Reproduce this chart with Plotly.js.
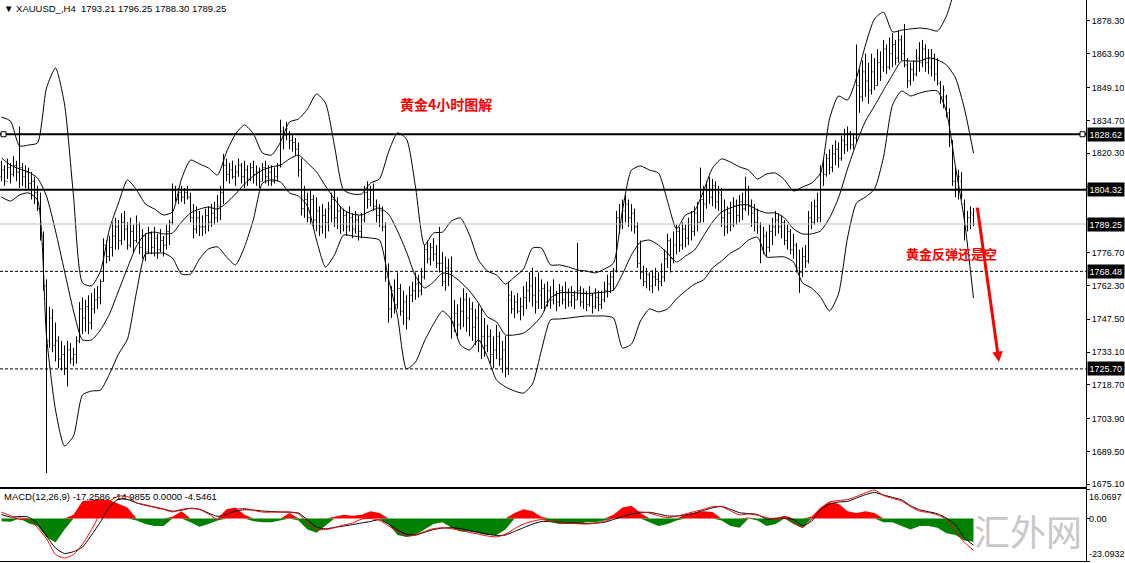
<!DOCTYPE html>
<html><head><meta charset="utf-8">
<script src="https://cdn.plot.ly/plotly-3.0.1.min.js"></script>
<style>html,body{margin:0;padding:0;background:#fff;overflow:hidden}#chart{width:1125px;height:563px}</style>
</head><body><div id="chart"></div>
<script>
// ---------- DATA ----------
const symbolLabel = 'XAUUSD_,H4';
const lastQuote = [1793.21, 1796.25, 1788.30, 1789.25];
const macdLabel = 'MACD(12,26,9) -17.2586 -14.9855 0.0000 -4.5461';

const barHigh = [
1817,1815,1818,1816,1819,1817,1832,1816,1815,1814,
1812,1810,1806,1803,1786,1765,1753,1752,1746,1740,
1738,1736,1738,1737,1735,1740,1755,1757,1756,1758,
1759,1761,1762,1765,1783,1782,1784,1790,1792,1791,
1794,1795,1790,1792,1789,1793,1790,1787,1785,1788,
1786,1788,1785,1787,1784,1789,1791,1807,1806,1805,
1806,1805,1806,1803,1798,1797,1795,1793,1796,1797,
1798,1799,1802,1806,1820,1818,1816,1817,1815,1818,
1816,1817,1815,1816,1817,1815,1814,1816,1817,1815,
1815,1814,1816,1835,1832,1834,1830,1829,1827,1825,
1818,1806,1803,1804,1802,1801,1797,1798,1796,1799,
1803,1804,1801,1797,1796,1795,1797,1794,1795,1793,
1794,1806,1808,1806,1807,1800,1798,1797,1790,1772,
1762,1765,1768,1763,1760,1758,1762,1764,1768,1767,
1770,1780,1782,1781,1783,1780,1788,1777,1775,1774,
1775,1756,1754,1757,1761,1759,1757,1755,1752,1754,
1752,1748,1745,1743,1740,1745,1742,1738,1740,1764,
1760,1758,1759,1757,1762,1764,1768,1770,1766,1768,
1765,1763,1764,1762,1765,1760,1763,1762,1764,1761,
1762,1760,1781,1762,1761,1760,1762,1759,1761,1760,
1760,1764,1767,1768,1770,1795,1798,1800,1802,1800,
1798,1796,1790,1782,1771,1770,1768,1769,1770,1768,
1772,1778,1785,1783,1786,1789,1788,1790,1789,1792,
1795,1797,1799,1814,1806,1808,1810,1809,1808,1806,
1805,1800,1797,1799,1801,1800,1802,1803,1810,1806,
1800,1798,1796,1790,1788,1786,1789,1792,1795,1794,
1793,1791,1789,1787,1785,1781,1778,1779,1780,1795,
1799,1800,1803,1815,1818,1820,1822,1824,1826,1825,
1828,1831,1832,1830,1829,1868,1857,1861,1864,1860,
1864,1862,1866,1865,1870,1868,1871,1873,1870,1874,
1872,1877,1862,1860,1861,1866,1869,1870,1868,1866,
1866,1864,1862,1852,1850,1846,1840,1826,1814,1813,
1812,1800,1795,1797,1796.25];
const barLow = [
1808,1806,1809,1807,1810,1808,1805,1806,1805,1804,
1800,1798,1795,1782,1760,1680,1735,1733,1729,1726,
1725,1723,1718,1728,1727,1728,1737,1741,1742,1741,
1743,1750,1752,1754,1764,1772,1773,1775,1778,1778,
1780,1782,1778,1779,1777,1781,1776,1774,1773,1776,
1776,1775,1774,1777,1775,1778,1780,1789,1799,1798,
1799,1798,1800,1790,1783,1785,1784,1784,1785,1786,
1788,1789,1790,1791,1798,1808,1807,1809,1806,1810,
1807,1805,1806,1808,1807,1806,1805,1808,1807,1806,
1806,1807,1808,1814,1822,1826,1822,1821,1819,1810,
1793,1792,1790,1789,1787,1786,1784,1785,1783,1786,
1790,1788,1787,1785,1786,1784,1786,1783,1785,1782,
1783,1790,1796,1797,1795,1790,1788,1786,1764,1746,
1748,1750,1752,1749,1745,1743,1747,1755,1756,1757,
1758,1765,1772,1771,1773,1770,1768,1762,1760,1762,
1739,1742,1740,1743,1744,1742,1740,1738,1736,1733,
1730,1731,1733,1728,1726,1730,1727,1724,1722,1723,
1750,1748,1750,1747,1749,1752,1755,1753,1750,1752,
1752,1751,1753,1752,1754,1751,1753,1754,1752,1753,
1753,1752,1756,1753,1752,1751,1753,1750,1752,1751,
1752,1755,1757,1759,1760,1768,1785,1787,1790,1788,
1786,1785,1770,1765,1762,1761,1760,1759,1762,1760,
1762,1764,1770,1768,1772,1776,1777,1778,1779,1780,
1782,1784,1786,1790,1790,1796,1798,1797,1796,1795,
1788,1784,1785,1786,1788,1789,1790,1791,1795,1793,
1788,1786,1785,1772,1776,1775,1777,1780,1784,1785,
1783,1780,1778,1776,1774,1768,1759,1766,1770,1772,
1787,1789,1790,1790,1806,1810,1811,1812,1815,1814,
1817,1820,1821,1822,1822,1825,1838,1843,1845,1842,
1846,1848,1850,1852,1856,1855,1857,1858,1859,1860,
1861,1858,1849,1850,1852,1854,1856,1858,1856,1855,
1854,1852,1850,1842,1840,1836,1823,1806,1801,1800,
1800,1782,1786,1787,1788.30];
const barOpen = [
1810,1813,1808,1814,1811,1815,1812,1814,1810,1812,
1807,1808,1803,1796,1784,1762,1738,1748,1736,1738,
1730,1732,1726,1734,1730,1732,1738,1752,1748,1753,
1746,1752,1756,1757,1764,1780,1775,1779,1784,1788,
1782,1790,1787,1780,1786,1782,1789,1779,1784,1777,
1785,1779,1783,1778,1782,1780,1786,1790,1804,1800,
1803,1801,1803,1801,1792,1787,1792,1788,1788,1793,
1790,1794,1792,1797,1803,1815,1811,1813,1810,1812,
1815,1810,1813,1809,1814,1811,1812,1808,1814,1810,
1812,1808,1810,1815,1830,1828,1829,1826,1825,1822,
1813,1796,1800,1792,1800,1791,1795,1788,1793,1790,
1797,1800,1792,1795,1789,1793,1788,1792,1787,1791,
1786,1791,1803,1800,1804,1797,1793,1795,1788,1766,
1752,1760,1754,1761,1751,1755,1748,1758,1760,1763,
1760,1766,1778,1774,1779,1776,1772,1772,1764,1770,
1770,1746,1750,1745,1751,1756,1748,1752,1744,1748,
1738,1740,1736,1740,1732,1734,1740,1730,1734,1726,
1756,1752,1755,1751,1753,1757,1760,1762,1758,1755,
1758,1761,1755,1760,1756,1758,1755,1760,1756,1759,
1755,1758,1756,1760,1755,1759,1754,1758,1753,1757,
1754,1756,1760,1763,1766,1769,1792,1789,1795,1798,
1792,1794,1788,1772,1768,1764,1767,1762,1766,1765,
1764,1766,1774,1782,1774,1780,1786,1780,1787,1783,
1789,1786,1794,1790,1800,1798,1804,1801,1806,1799,
1802,1792,1788,1794,1789,1797,1793,1799,1796,1804,
1797,1794,1790,1788,1778,1784,1779,1786,1788,1791,
1788,1790,1782,1786,1778,1780,1770,1768,1775,1773,
1792,1790,1797,1792,1812,1811,1818,1814,1820,1822,
1818,1826,1824,1829,1824,1827,1850,1845,1856,1852,
1848,1856,1850,1860,1858,1866,1858,1864,1868,1862,
1870,1864,1859,1852,1857,1855,1862,1860,1866,1860,
1858,1862,1855,1851,1845,1845,1838,1825,1808,1805,
1808,1798,1788,1792,1793.21];
const barClose = [
1813,1808,1814,1811,1815,1812,1814,1810,1812,1807,
1808,1803,1796,1784,1762,1738,1748,1736,1738,1730,
1732,1726,1734,1730,1732,1738,1752,1748,1753,1746,
1752,1756,1757,1764,1780,1775,1779,1784,1788,1782,
1790,1787,1780,1786,1782,1789,1779,1784,1777,1785,
1779,1783,1778,1782,1780,1786,1790,1804,1800,1803,
1801,1803,1801,1792,1787,1792,1788,1788,1793,1790,
1794,1792,1797,1803,1815,1811,1813,1810,1812,1815,
1810,1813,1809,1814,1811,1812,1808,1814,1810,1812,
1808,1810,1815,1830,1828,1831,1826,1825,1822,1813,
1796,1800,1792,1800,1791,1795,1788,1793,1790,1796,
1800,1792,1795,1789,1793,1788,1792,1787,1791,1786,
1791,1803,1800,1804,1797,1793,1795,1788,1766,1752,
1760,1754,1761,1751,1755,1748,1758,1760,1763,1760,
1766,1778,1774,1779,1776,1772,1772,1764,1770,1766,
1746,1750,1745,1751,1756,1748,1752,1744,1748,1738,
1740,1736,1740,1732,1734,1740,1730,1734,1726,1758,
1752,1755,1751,1753,1757,1760,1762,1758,1755,1760,
1761,1755,1760,1756,1758,1755,1760,1756,1759,1755,
1758,1756,1760,1755,1759,1754,1758,1753,1757,1754,
1756,1760,1763,1766,1769,1792,1789,1795,1798,1792,
1794,1788,1772,1768,1764,1767,1762,1766,1765,1764,
1766,1774,1782,1774,1780,1786,1780,1787,1783,1789,
1786,1794,1790,1800,1798,1804,1801,1806,1799,1803,
1792,1788,1794,1789,1797,1793,1799,1796,1804,1797,
1794,1790,1792,1778,1784,1779,1786,1788,1791,1788,
1790,1782,1786,1778,1780,1770,1768,1775,1773,1792,
1790,1797,1792,1812,1811,1818,1814,1820,1822,1818,
1826,1824,1829,1824,1827,1850,1845,1856,1852,1848,
1856,1850,1860,1854,1866,1858,1864,1868,1862,1870,
1864,1859,1852,1857,1855,1862,1860,1866,1860,1862,
1862,1855,1851,1845,1848,1838,1825,1808,1805,1810,
1802,1788,1792,1794,1789.25];

// Bollinger bands, read every 3rd bar
const bandStep = 3;
const bbUpper = [
1836.2,1834.4,1823.5,1823.9,1824.8,1848.9,1857.7,1841.9,1801.5,1763.4,
1762.1,1768.6,1787.1,1798.5,1808.6,1804.2,1798.0,1795.8,1793.2,1794.5,
1809.0,1817.3,1815.6,1813.8,1810.7,1820.8,1828.7,1832.7,1828.7,1820.4,
1819.5,1825.2,1834.0,1835.3,1839.7,1846.3,1842.3,1823.5,1804.2,1802.4,
1802.4,1807.2,1809.0,1820.8,1829.2,1826.5,1805.5,1780.0,1785.3,1785.7,
1790.6,1791.9,1784.4,1773.5,1768.6,1766.9,1762.9,1766.0,1769.5,1778.7,
1778.7,1771.3,1771.3,1770.4,1769.1,1768.6,1767.8,1769.5,1772.1,1795.4,
1812.9,1814.7,1812.9,1811.6,1799.3,1787.1,1793.2,1795.0,1803.7,1813.8,
1817.8,1816.4,1814.3,1812.9,1809.0,1811.2,1811.6,1808.6,1803.7,1805.5,
1807.2,1811.6,1835.3,1845.4,1843.6,1853.3,1867.8,1879.2,1882.2,1873.5,
1874.3,1874.8,1875.2,1874.8,1873.9,1880.5,1892.0,1895.0,1893.0];
const bbMiddle = [
1818.2,1815.1,1813.4,1812.1,1809.4,1801.5,1786.2,1768.6,1751.1,1738.4,
1738.4,1742.8,1749.8,1759.9,1770.0,1779.6,1784.9,1785.7,1784.9,1785.3,
1790.1,1794.1,1795.8,1796.7,1795.8,1798.5,1802.4,1806.8,1810.3,1812.9,
1814.3,1815.1,1817.8,1819.5,1816.0,1812.1,1805.9,1800.2,1795.4,1793.6,
1793.2,1795.0,1796.3,1793.6,1786.2,1777.0,1766.4,1761.2,1763.8,1767.8,
1766.9,1763.8,1759.9,1754.6,1748.5,1746.3,1740.6,1740.6,1741.4,1744.5,
1748.9,1756.8,1759.0,1759.3,1759.0,1758.7,1759.0,1759.4,1760.3,1767.3,
1775.7,1781.4,1782.2,1780.0,1776.5,1772.6,1775.2,1777.8,1784.0,1790.1,
1794.5,1796.3,1797.6,1797.6,1795.4,1794.1,1794.1,1791.9,1787.1,1784.9,
1784.9,1786.2,1791.9,1800.7,1813.4,1824.8,1834.4,1841.0,1848.0,1854.6,
1860.7,1860.7,1860.7,1862.1,1861.2,1859.0,1853.3,1839.7,1820.4];
const bbLower = [
1801.1,1799.3,1802.0,1802.9,1799.8,1740.1,1707.7,1691.9,1696.3,1714.3,
1716.0,1716.4,1723.5,1732.2,1738.8,1759.4,1776.1,1776.5,1776.5,1774.3,
1767.3,1767.3,1773.9,1778.3,1779.2,1774.8,1771.3,1779.2,1791.4,1807.2,
1808.6,1807.7,1802.9,1801.5,1797.1,1782.2,1770.4,1775.7,1784.4,1784.0,
1783.5,1783.1,1782.2,1765.1,1748.9,1725.7,1728.7,1737.9,1745.4,1751.1,
1747.2,1736.2,1734.0,1738.4,1730.9,1720.8,1717.8,1716.0,1715.1,1719.1,
1734.0,1747.2,1747.6,1748.0,1748.5,1748.9,1748.9,1748.9,1748.0,1734.9,
1736.6,1746.7,1752.0,1750.7,1752.0,1756.4,1759.9,1762.9,1764.7,1770.0,
1773.0,1776.5,1778.7,1782.2,1783.5,1774.8,1774.8,1774.8,1772.6,1763.4,
1761.2,1757.2,1751.1,1758.6,1783.1,1798.5,1801.1,1804.6,1818.6,1841.4,
1847.6,1845.4,1846.7,1847.6,1847.6,1838.4,1814.3,1790.6,1756.8];

// MACD panel, read every 3rd bar
const macdHist = [
-1.5,-1.8,0.5,-2.5,-4,-10,-13,-6,2,9.5,
10,10.5,10,8,6,-1,-3,-4,-4,1,
3.9,-2,-4.4,-3,-1,5,6,2,-1.5,-2,
-2,-1,3,-1,-6,-7.7,-4,1,2,1.5,
2,4,3,-3,-9,-10,-9,-6,-3,-2,
-5,-7,-7,-8,-9,-9,-6,3,5,4,
1,-2,-3,-3,-3,-2,-2,-1,2,6,
7,3,-2,-4,-3,-1,2,3,4,3.5,
-1,-4,-5,0.5,-1,-4,-3,1.5,-3,-5,
1,6,8.8,8,4,3,4,3,-2,-2,
-4,-6,-4,-4,-5,-8,-9,-12,-12.6];
const macdSignal = [
2.2,0.8,1.1,0.8,-2.8,-9.5,-16,-19,-18,-15.5,
-9,-1.8,6.4,10.5,10.4,8.5,7.2,6.3,5.2,4.0,
4.5,5.6,5,3,1.2,2.2,4.1,4.8,4.6,4.1,
3.8,3.6,3.4,3.0,-0.8,-4.6,-5.6,-4.8,-4.1,-3.3,
-2.4,-1.6,-0.6,-3,-6.2,-8.5,-9,-7.5,-6,-5.2,
-5,-5.5,-6.5,-7.5,-8.5,-9.2,-9,-7,-5,-3,
-1.6,-1.6,-1.8,-2.2,-2.5,-2.7,-2.5,-2,-0.5,1,
2.5,3.2,3.4,2.5,1.4,1.4,2,3,4.4,5.8,
6.6,5,3.2,2.7,2.2,-0.3,0.2,0.2,-0.5,-3.8,
-1.5,4.8,7.8,9.0,9.3,11.2,13,14.2,12.8,11.5,
10.2,7,4.8,3.7,2.6,0.2,-3.5,-10.5,-14.5];
const macdMain = [
3.5,1.5,-0.5,-0.3,-5,-11,-19.5,-21.5,-19.5,-14,
-6,3,9.5,12.2,12,8.5,7.5,6,5,3.6,
5,5.5,5,2.5,-0.5,3.5,5,5.5,4.5,3.5,
3.5,3.5,3.6,2.5,-2.5,-6,-6,-5,-3.5,-2.5,
-0.3,0,-1,-4,-7,-9.5,-9,-7,-5.5,-5,
-5.5,-6.5,-7.5,-8.5,-9.5,-10,-8.5,-5.5,-3,-1.5,
-0.5,-1.5,-2,-2.5,-2.8,-3,-2.5,-1.5,0.5,2.5,
3.5,3.6,3,1.5,0.5,1.2,2.5,3.8,5,6.5,
6.5,4.2,2,2.5,1.8,0.5,-0.5,0.8,-2.5,-4.8,
-0.5,5.5,9,9.8,10.3,12,14,15.5,12.5,11,
9.5,6.5,4,3.3,2.0,-0.5,-7,-13,-17.3];

// horizontal levels
const levelPrice = [1828.62, 1804.32, 1789.25, 1768.48, 1725.70];
const levelKind  = ['thick', 'thick', 'bid', 'dash', 'dash'];

// price axis (two labels sit under the highlighted level boxes)
const priceTicks = [1878.30,1863.90,1849.10,1834.70,1820.30,1805.90,1791.10,1776.70,1762.30,1747.50,1733.10,1718.70,1703.90,1689.50,1675.10];
const hiddenTicks = [1805.90, 1791.10];
const macdTicks = [16.0697, 0.00, -23.0932];

// notes
const noteText  = ['黄金4小时图解', '黄金反弹还是空'];
const noteBar   = [148, 316.5];
const notePrice = [1842, 1776.5];
const arrowBar   = [325.2, 332.5];
const arrowPrice = [1797.1, 1728.7];
const watermark = '汇外网';

// ---------- BUILD ----------
const barIdx = barHigh.map((_, i) => i);
const bandIdx = bbUpper.map((_, k) => k * bandStep);

const traces = [];
[bbUpper, bbMiddle, bbLower].forEach(b => traces.push({
  type: 'scatter', mode: 'lines', x: bandIdx, y: b, xaxis: 'x', yaxis: 'y',
  line: {color: '#000', width: 1, shape: 'spline', smoothing: 0.6}, hoverinfo: 'skip'
}));
traces.push({
  type: 'ohlc', x: barIdx, open: barOpen, high: barHigh, low: barLow, close: barClose,
  xaxis: 'x', yaxis: 'y', tickwidth: 0.34, hoverinfo: 'skip',
  increasing: {line: {color: '#000', width: 1}},
  decreasing: {line: {color: '#000', width: 1}}
});
traces.push({
  type: 'scatter', mode: 'lines', x: bandIdx, y: macdHist.map(v => Math.max(v, 0)), xaxis: 'x2', yaxis: 'y2',
  fill: 'tozeroy', fillcolor: '#ff0000', line: {width: 0, color: '#ff0000'}, hoverinfo: 'skip'
});
traces.push({
  type: 'scatter', mode: 'lines', x: bandIdx, y: macdHist.map(v => Math.min(v, 0)), xaxis: 'x2', yaxis: 'y2',
  fill: 'tozeroy', fillcolor: '#008000', line: {width: 0, color: '#008000'}, hoverinfo: 'skip'
});
traces.push({
  type: 'scatter', mode: 'lines', x: bandIdx, y: macdSignal, xaxis: 'x2', yaxis: 'y2',
  line: {color: '#000', width: 1, shape: 'spline', smoothing: 0.6}, hoverinfo: 'skip'
});
traces.push({
  type: 'scatter', mode: 'lines', x: bandIdx, y: macdMain, xaxis: 'x2', yaxis: 'y2',
  line: {color: '#ff0000', width: 1, shape: 'spline', smoothing: 0.6}, hoverinfo: 'skip'
});

const H = 563, PW = 1086;
const tickFont = {family: 'Liberation Sans, Arial, sans-serif', size: 9, color: '#000'};
const xr = [-0.5, 361.5];

const shapes = [];
levelPrice.forEach((p, i) => {
  const k = levelKind[i];
  const line = k === 'thick' ? {color: '#000', width: 2}
             : k === 'bid' ? {color: '#c0c0c0', width: 1}
             : {color: '#000', width: 1, dash: '3px,2px'};
  shapes.push({type: 'line', xref: 'paper', x0: 0, x1: 1, yref: 'y', y0: p, y1: p, line, layer: 'above'});
});
[[0, 1, 6], [1, -6, -1]].forEach(([anc, a, b]) => shapes.push({
  type: 'rect', xref: 'paper', xsizemode: 'pixel', xanchor: anc, x0: a, x1: b,
  yref: 'y', ysizemode: 'pixel', yanchor: levelPrice[0], y0: -2.5, y1: 2.5,
  fillcolor: '#fff', line: {color: '#000', width: 1}, layer: 'above'
}));

const annotations = [];
annotations.push({
  xref: 'paper', yref: 'paper', x: 0, y: 1, xanchor: 'left', yanchor: 'top', xshift: 2, yshift: -1,
  text: '▼ ' + symbolLabel + '\u00a0\u00a0' + lastQuote.map(v => v.toFixed(2)).join(' '),
  showarrow: false, font: {family: 'Liberation Sans, Arial', size: 9.5, color: '#000'}
});
annotations.push({
  xref: 'paper', yref: 'paper', x: 0, y: 1 - 496 / H, xanchor: 'left', yanchor: 'middle', xshift: 2,
  text: macdLabel, showarrow: false, font: {family: 'Liberation Sans, Arial', size: 9.5, color: '#000'}
});
levelPrice.forEach(p => annotations.push({
  xref: 'paper', yref: 'y', x: 1, y: p, xanchor: 'left', yanchor: 'middle', xshift: 1,
  text: p.toFixed(2), showarrow: false, bgcolor: '#000', borderpad: 1.5,
  font: {family: 'Liberation Sans, Arial', size: 9, color: '#fff'}
}));
macdTicks.forEach((v, i) => annotations.push({
  xref: 'paper', yref: 'y2', x: 1, y: v, xanchor: 'left',
  yanchor: i === 0 ? 'top' : (i === 2 ? 'bottom' : 'middle'), xshift: 1, yshift: i === 0 ? -1 : 0,
  text: i === 1 ? v.toFixed(2) : v.toFixed(4), showarrow: false, font: tickFont
}));
noteText.forEach((t, i) => annotations.push({
  xref: 'x', yref: 'y', x: noteBar[i], y: notePrice[i], xanchor: 'center', yanchor: 'middle',
  text: '<b>' + t + '</b>', showarrow: false,
  font: {family: 'Noto Sans CJK SC', size: i === 0 ? 14 : 13, color: '#ff0000'}
}));
annotations.push({
  xref: 'x', yref: 'y', x: arrowBar[1], y: arrowPrice[1], axref: 'x', ayref: 'y',
  ax: arrowBar[0], ay: arrowPrice[0], text: '', showarrow: true,
  arrowhead: 2, arrowsize: 0.7, arrowwidth: 3, arrowcolor: '#ff0000'
});
// watermark kept just left of the MACD scale labels
annotations.push({
  xref: 'paper', yref: 'paper', x: 1, y: 1 - 530 / H, xanchor: 'right', yanchor: 'middle', xshift: -2,
  text: watermark, showarrow: false,
  font: {family: 'Noto Sans CJK SC', size: 36, color: '#c8c8c8'}
});

const axBase = {showgrid: false, zeroline: false, showline: true, mirror: true, linecolor: '#000', linewidth: 1, fixedrange: true};
const layout = {
  width: 1125, height: H, margin: {l: 0, r: 1125 - PW, t: 0, b: 0},
  paper_bgcolor: '#fff', plot_bgcolor: '#fff', showlegend: false,
  xaxis: Object.assign({}, axBase, {domain: [0, 1], range: xr, anchor: 'y', showticklabels: false, ticks: '', rangeslider: {visible: false}}),
  yaxis: Object.assign({}, axBase, {domain: [1 - 487 / H, 1], range: [1673.9, 1887.5], anchor: 'x', side: 'right',
    tickvals: priceTicks, ticktext: priceTicks.map(v => hiddenTicks.includes(v) ? '' : v.toFixed(2)),
    ticks: 'outside', ticklen: 3, tickcolor: '#000', tickfont: tickFont}),
  xaxis2: Object.assign({}, axBase, {domain: [0, 1], range: xr, anchor: 'y2', showticklabels: false, ticks: '', rangeslider: {visible: false}}),
  yaxis2: Object.assign({}, axBase, {domain: [1 - 561 / H, 1 - 489 / H], range: [-23.0932, 16.0697], anchor: 'x2', side: 'right',
    tickvals: macdTicks, ticktext: macdTicks.map(() => ''), ticks: 'outside', ticklen: 3, tickcolor: '#000'}),
  shapes, annotations
};
Plotly.newPlot('chart', traces, layout, {staticPlot: true, displayModeBar: false});
</script></body></html>
